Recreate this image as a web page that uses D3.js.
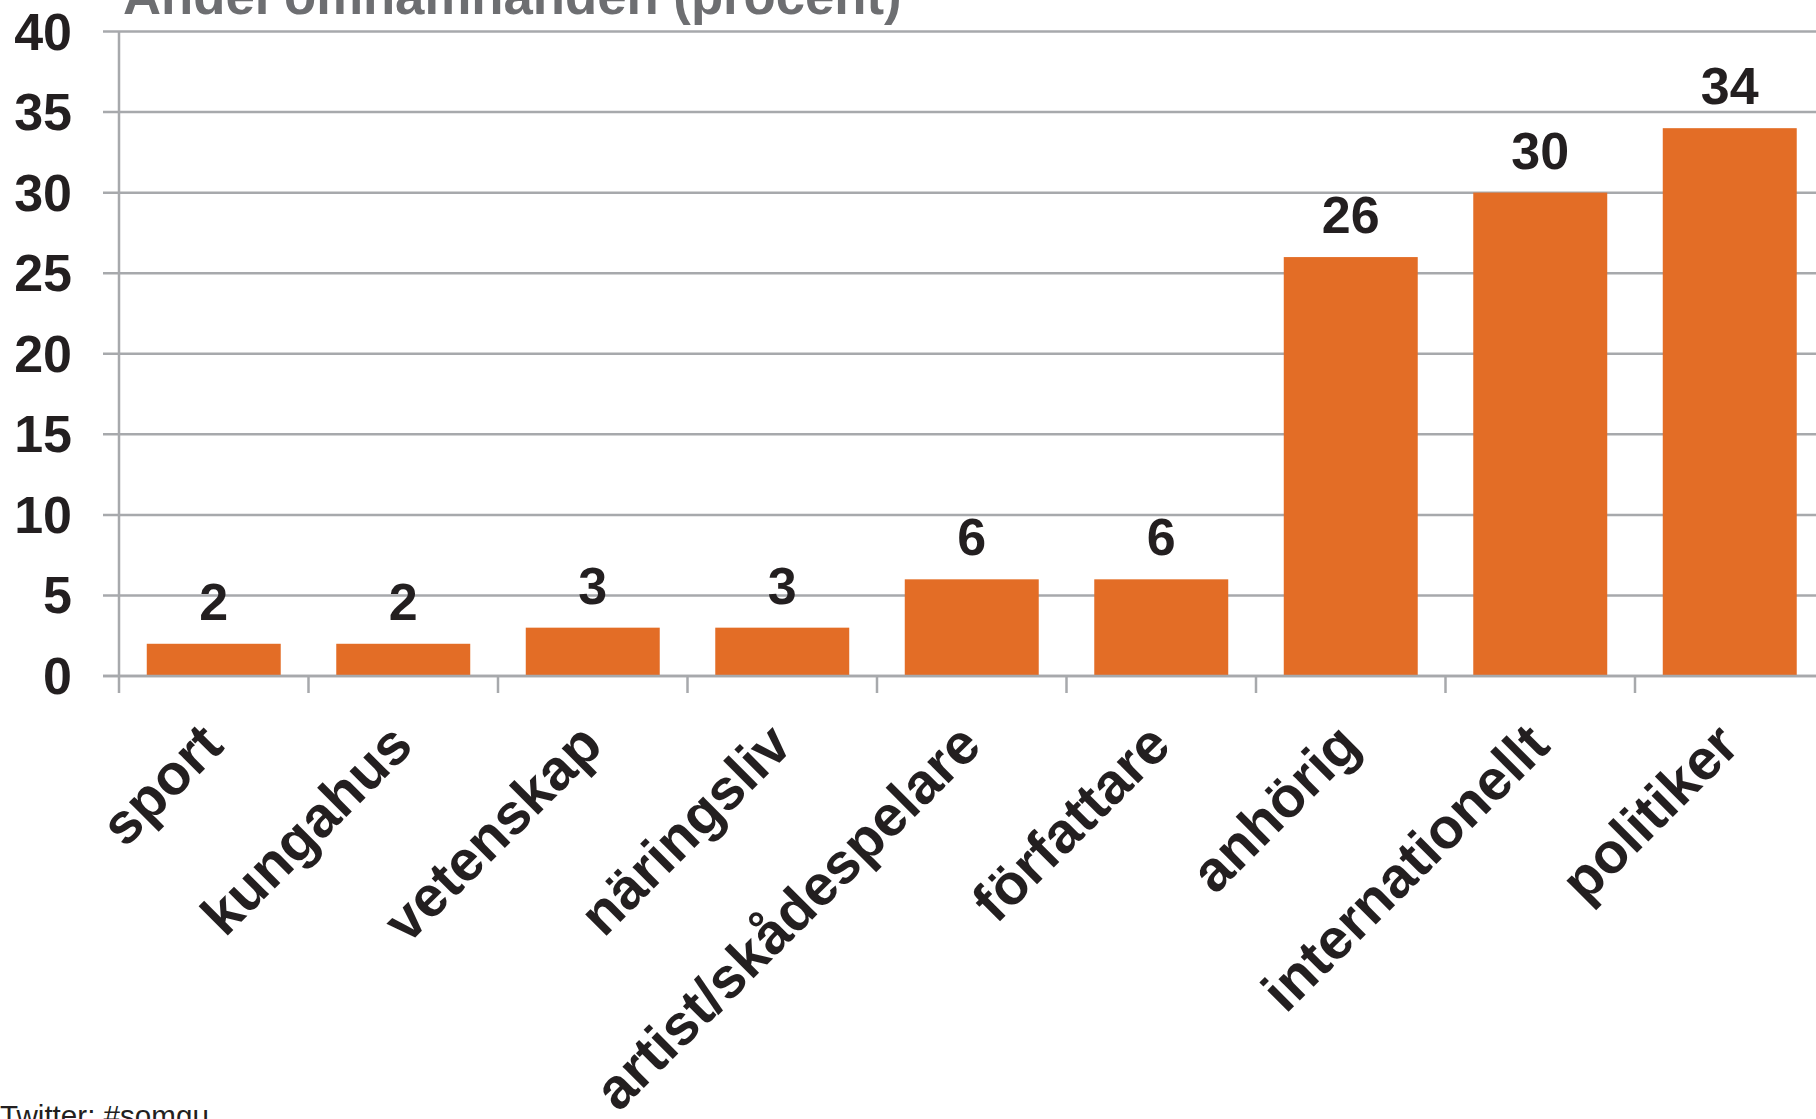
<!DOCTYPE html>
<html>
<head>
<meta charset="utf-8">
<script src="https://cdn.jsdelivr.net/npm/d3@7"></script>
<style>
  html, body { margin: 0; padding: 0; background: #fff; overflow: hidden; }
  svg { display: block; }
  text { font-family: "Liberation Sans", Arial, Helvetica, sans-serif; }
</style>
</head>
<body>
<script>
const categories = ["sport", "kungahus", "vetenskap", "näringsliv", "artist/skådespelare", "författare", "anhörig", "internationellt", "politiker"];
const values = [2, 2, 3, 3, 6, 6, 26, 30, 34];
const yTicks = [0, 5, 10, 15, 20, 25, 30, 35, 40];
const titleText = "Andel omnämnanden (procent)";
const footerText = "Twitter: #somgu";

const W = 1816, H = 1119;
const svg = d3.select("body").append("svg").attr("width", W).attr("height", H);

const x = d3.scaleBand().domain(categories).range([119, 1824.5]).paddingInner(0.293).paddingOuter(0.1465);
const y = d3.scaleLinear().domain([0, 40]).range([676, 31.5]);
const gridColor = "#a7a9ac";
const step = x.step();
const off = (step - x.bandwidth()) / 2;

// gridlines
svg.append("g").selectAll("line").data(yTicks).join("line")
  .attr("x1", 103).attr("x2", W)
  .attr("y1", d => y(d)).attr("y2", d => y(d))
  .attr("stroke", gridColor).attr("stroke-width", 2.5);

// y axis line
svg.append("line").attr("x1", 119).attr("x2", 119).attr("y1", y(40)).attr("y2", 693)
  .attr("stroke", gridColor).attr("stroke-width", 2.5);

// category ticks
svg.append("g").selectAll("line").data(categories.slice(1)).join("line")
  .attr("x1", d => x(d) - off).attr("x2", d => x(d) - off)
  .attr("y1", y(0)).attr("y2", 693)
  .attr("stroke", gridColor).attr("stroke-width", 2.5);

// y tick labels
svg.append("g").selectAll("text").data(yTicks).join("text")
  .attr("x", 72).attr("y", d => y(d) + 18)
  .attr("text-anchor", "end")
  .attr("font-size", 52).attr("font-weight", "bold").attr("fill", "#231f20")
  .text(d => d);

// bars
svg.append("g").selectAll("rect").data(values).join("rect")
  .attr("x", (d, i) => x(categories[i]))
  .attr("width", x.bandwidth())
  .attr("y", d => y(d))
  .attr("height", d => y(0) - y(d))
  .attr("fill", "#e36d26");

// redraw zero line on top
svg.append("line").attr("x1", 103).attr("x2", W).attr("y1", y(0)).attr("y2", y(0))
  .attr("stroke", gridColor).attr("stroke-width", 2.5);

// value labels
svg.append("g").selectAll("text").data(values).join("text")
  .attr("x", (d, i) => x(categories[i]) + x.bandwidth() / 2)
  .attr("y", d => y(d) - 24)
  .attr("text-anchor", "middle")
  .attr("font-size", 52).attr("font-weight", "bold").attr("fill", "#231f20")
  .text(d => d);

// category labels
svg.append("g").selectAll("text").data(categories).join("text")
  .attr("transform", d => `translate(${x(d) + x.bandwidth() / 2 + 12},748) rotate(-45)`)
  .attr("text-anchor", "end")
  .attr("font-size", 57).attr("font-weight", "bold").attr("fill", "#231f20")
  .text(d => d);

// title
svg.append("text").attr("x", 123).attr("y", 14)
  .attr("font-size", 52.7).attr("font-weight", "bold").attr("fill", "#6d6e71")
  .text(titleText);

// footer
svg.append("text").attr("x", 0).attr("y", 1126)
  .attr("font-size", 29.6).attr("fill", "#231f20")
  .text(footerText);
</script>
</body>
</html>
